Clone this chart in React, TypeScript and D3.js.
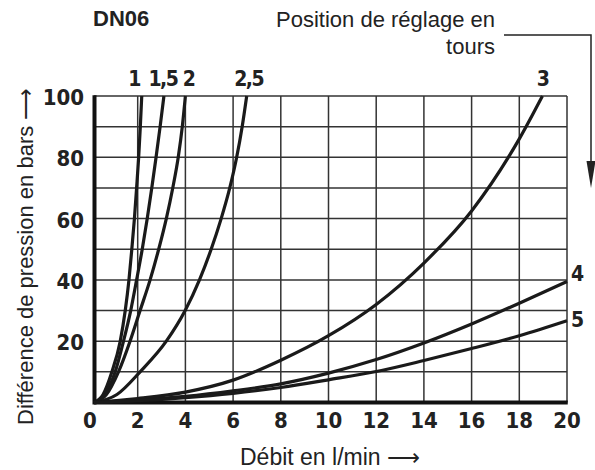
import { scaleLinear, line, curveMonotoneX, range } from 'd3';

const tour1: [number, number][] = [[0, 0], [0.41, 2.5], [0.82, 10], [1.2, 20], [1.43, 30], [1.6, 40], [1.73, 50], [1.85, 60], [1.95, 70], [2.04, 80], [2.11, 90], [2.17, 100]];
const tour1_5: [number, number][] = [[0, 0], [0.48, 2.5], [0.97, 10], [1.35, 20], [1.68, 30], [1.95, 40], [2.19, 50], [2.4, 60], [2.59, 70], [2.77, 80], [2.94, 90], [3.1, 100]];
const tour2: [number, number][] = [[0, 0], [0.56, 2.5], [1.12, 10], [1.65, 20], [2.1, 30], [2.52, 40], [2.88, 50], [3.2, 60], [3.47, 70], [3.7, 80], [3.87, 90], [4.0, 100]];
const tour2_5: [number, number][] = [[0, 0], [1.05, 2.6], [2.1, 10], [3.2, 20], [3.99, 30], [4.59, 40], [5.08, 50], [5.5, 60], [5.86, 70], [6.15, 80], [6.38, 90], [6.57, 100]];
const tour3: [number, number][] = [[0, 0], [2, 1.3], [4, 3.4], [6, 7.3], [8, 13.8], [10, 21.8], [12, 32], [14, 45.5], [16, 62.5], [18, 86], [18.97, 100]];
const tour4: [number, number][] = [[0, 0], [2, 0.8], [4, 2.0], [6, 3.8], [8, 6.1], [10, 9.6], [12, 14], [14, 19.4], [16, 25.6], [18, 32.4], [20, 39.5]];
const tour5: [number, number][] = [[0, 0], [2, 0.6], [4, 1.6], [6, 3.0], [8, 4.9], [10, 7.4], [12, 10.1], [14, 13.7], [16, 17.6], [18, 21.8], [20, 26.7]];

const curves = [
  { label: '1', pts: tour1 },
  { label: '1,5', pts: tour1_5 },
  { label: '2', pts: tour2 },
  { label: '2,5', pts: tour2_5 },
  { label: '3', pts: tour3 },
  { label: '4', pts: tour4 },
  { label: '5', pts: tour5 },
];

const xTicks = [0, 2, 4, 6, 8, 10, 12, 14, 16, 18, 20];
const yTicks = [20, 40, 60, 80, 100];

const condensed = '"DejaVu Sans Condensed", "Liberation Sans Narrow", sans-serif';
const sans = '"Liberation Sans", Arial, sans-serif';

export default function App() {
  // first column is a bit narrower in the original
  const x = scaleLinear().domain([0, 2, 20]).range([94, 137.7, 567]);
  const y = scaleLinear().domain([0, 100]).range([402.5, 96]);

  const path = line<[number, number]>()
    .x((d) => x(d[0]))
    .y((d) => y(d[1]))
    .curve(curveMonotoneX);

  // label placement relative to each curve end
  const labelOff: Record<string, [number, number, string]> = {
    '1': [-7, -10, 'middle'],
    '1,5': [-1, -10, 'middle'],
    '2': [4, -10, 'middle'],
    '2,5': [2, -10, 'middle'],
    '3': [1, -10, 'middle'],
    '4': [4, 0, 'start'],
    '5': [4, 6, 'start'],
  };

  return (
    <svg
      width={595}
      height={470}
      viewBox="0 0 595 470"
      style={{ position: 'absolute', left: 0, top: 0, display: 'block' }}
    >
      <rect x={0} y={0} width={595} height={470} fill="#fff" />

      {/* grid */}
      <g stroke="#333" strokeWidth={1.5}>
        {range(10, 101, 10).map((v) => (
          <line key={'h' + v} x1={x(0)} x2={x(20)} y1={y(v)} y2={y(v)} />
        ))}
        {xTicks.slice(1).map((v) => (
          <line key={'v' + v} x1={x(v)} x2={x(v)} y1={y(0)} y2={y(100)} />
        ))}
      </g>
      <line x1={x(0) + 0.5} x2={x(0) + 0.5} y1={y(100) - 0.7} y2={y(0) + 2} stroke="#111" strokeWidth={4} />
      <line x1={x(0)} x2={x(20) + 0.75} y1={y(0)} y2={y(0)} stroke="#111" strokeWidth={4} />

      {/* curves */}
      <g fill="none" stroke="#1a1a1a" strokeWidth={3.2} strokeLinecap="butt">
        {curves.map((c) => (
          <path key={c.label} d={path(c.pts) || ''} />
        ))}
      </g>

      {/* curve labels */}
      <g fontFamily={condensed} fontWeight="bold" fontSize={21} fill="#222">
        {curves.map((c) => {
          const end = c.pts[c.pts.length - 1];
          const [dx, dy, anchor] = labelOff[c.label];
          return (
            <text
              key={c.label}
              x={x(end[0]) + dx}
              y={y(end[1]) + dy}
              textAnchor={anchor}
              letterSpacing={c.label.length > 1 ? -1.5 : 0}
            >
              {c.label}
            </text>
          );
        })}
      </g>

      {/* axis ticks */}
      <g fontFamily={condensed} fontWeight="bold" fontSize={22} fill="#222">
        {xTicks.map((v) => (
          <text key={'xt' + v} x={x(v) - (v === 0 ? 4 : 0)} y={428} textAnchor="middle">
            {v}
          </text>
        ))}
        {yTicks.map((v) => (
          <text key={'yt' + v} x={84} y={y(v) + 9} textAnchor="end">
            {v}
          </text>
        ))}
      </g>

      {/* titles */}
      <text x={93} y={26} fontFamily={sans} fontWeight="bold" fontSize={22} fill="#222">
        DN06
      </text>
      <g fontFamily={sans} fontSize={22} fill="#222" textAnchor="end">
        <text x={495} y={27}>Position de réglage en</text>
        <text x={495} y={54}>tours</text>
      </g>
      <path d="M504,35H591V166" fill="none" stroke="#222" strokeWidth={1.5} />
      <path d="M586.5,161L595.5,161L591,188Z" fill="#222" />

      <text x={240} y={465} fontFamily={sans} fontSize={23} fill="#222">
        Débit en l/min ⟶
      </text>
      <text
        transform="translate(33,425) rotate(-90)"
        fontFamily={sans}
        fontSize={22}
        fill="#222"
      >
        Différence de pression en bars ⟶
      </text>
    </svg>
  );
}
